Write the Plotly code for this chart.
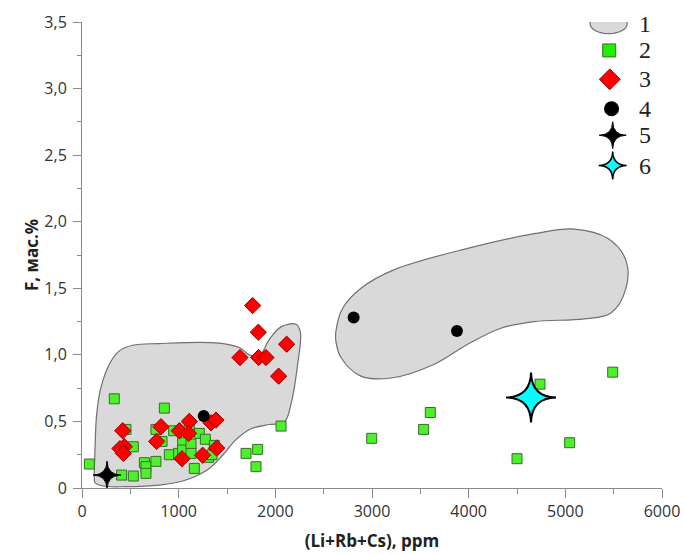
import plotly.graph_objects as go

# ---- data ----
region1_x = [128, 135, 152, 196, 283, 386, 524, 800, 1386, 1627, 1731, 1834, 1938, 2059, 2214, 2259,
             2231, 2162, 2093, 1938, 1748, 1593, 1455, 1317, 1076, 800, 455, 214, 134, 128]
region1_y = [0.06, 0.30, 0.557, 0.756, 0.93, 1.03, 1.072, 1.085, 1.09, 1.055, 1.0, 0.99, 1.117, 1.21,
             1.23, 1.17, 0.93, 0.63, 0.495, 0.477, 0.445, 0.363, 0.246, 0.147, 0.06, 0.022, 0.01,
             0.015, 0.04, 0.06]

region2_x = [2627, 2697, 2886, 3231, 3990, 4679, 5093, 5438, 5627, 5627, 5472, 5196, 4679, 4334,
             3990, 3645, 3196, 2886, 2679, 2627, 2627]
region2_y = [1.18, 1.35, 1.50, 1.64, 1.80, 1.91, 1.945, 1.875, 1.71, 1.50, 1.315, 1.27, 1.25, 1.20,
             1.08, 0.93, 0.826, 0.84, 0.98, 1.10, 1.18]

green_x = [76, 334, 852, 455, 531, 410, 531, 645, 662, 662, 765, 765, 828, 904, 948, 1000, 1041,
           1041, 1110, 1128, 1128, 1162, 1214, 1276, 1310, 1345, 1369, 1697, 1817, 1800, 2059,
           2997, 3534, 3603, 4500, 4738, 5045, 5490]
green_y = [0.18, 0.67, 0.60, 0.44, 0.31, 0.097, 0.09, 0.19, 0.16, 0.11, 0.20, 0.44, 0.35, 0.25,
           0.43, 0.26, 0.34, 0.285, 0.46, 0.33, 0.26, 0.147, 0.41, 0.366, 0.23, 0.25, 0.32, 0.26,
           0.29, 0.16, 0.465, 0.373, 0.44, 0.567, 0.22, 0.78, 0.34, 0.87]

red_x = [1765, 1824, 2117, 1634, 1827, 1903, 2034, 421, 438, 393, 428, 772, 817, 1007, 1110,
         1103, 1034, 1248, 1334, 1386, 1393]
red_y = [1.37, 1.17, 1.08, 0.98, 0.98, 0.98, 0.84, 0.43, 0.31, 0.296, 0.26, 0.35, 0.46, 0.43,
         0.50, 0.41, 0.22, 0.246, 0.49, 0.51, 0.30]

black_x = [1259, 2810, 3879]
black_y = [0.54, 1.28, 1.18]

star5_x = [259]
star5_y = [0.097]

star6_x = [4645]
star6_y = [0.68]

x_tickvals = [0, 1000, 2000, 3000, 4000, 5000, 6000]
x_ticktext = ["0", "1000", "2000", "3000", "4000", "5000", "6000"]
y_tickvals = [0, 0.5, 1.0, 1.5, 2.0, 2.5, 3.0, 3.5]
y_ticktext = ["0", "0,5", "1,0", "1,5", "2,0", "2,5", "3,0", "3,5"]

legend_labels = ["1", "2", "3", "4", "5", "6"]

# ---- styles ----
GREEN = "#4cf02c"
GREEN_LINE = "#3a6b2a"
RED = "#ff0000"
RED_LINE = "#990000"
GRAY_FILL = "#d9d9d9"
GRAY_LINE = "#707070"
AXIS = "#8a8a8a"


def star_path(r):
    k = r * 0.02
    return (f"M 0 {r} Q {k} {k} {r} 0 Q {k} {-k} 0 {-r} "
            f"Q {-k} {-k} {-r} 0 Q {-k} {k} 0 {r} Z")


fig = go.Figure()

for rx, ry in [(region1_x, region1_y), (region2_x, region2_y)]:
    fig.add_trace(go.Scatter(x=rx, y=ry, mode="lines", fill="toself",
                             fillcolor=GRAY_FILL, line=dict(color=GRAY_LINE, width=1.2,
                                                            shape="spline", smoothing=1.0),
                             hoverinfo="skip", showlegend=False))

fig.add_trace(go.Scatter(x=green_x, y=green_y, mode="markers", showlegend=False,
                         marker=dict(symbol="square", size=10, color=GREEN,
                                     line=dict(color=GREEN_LINE, width=1)), cliponaxis=False))
fig.add_trace(go.Scatter(x=red_x, y=red_y, mode="markers", showlegend=False,
                         marker=dict(symbol="diamond", size=12.5, color=RED,
                                     line=dict(color=RED_LINE, width=1)), cliponaxis=False))
fig.add_trace(go.Scatter(x=black_x, y=black_y, mode="markers", showlegend=False,
                         marker=dict(symbol="circle", size=12, color="black"), cliponaxis=False))

# 4-pointed stars anchored at data points (pixel-sized shapes)
for sx, sy in zip(star5_x, star5_y):
    fig.add_shape(type="path", xref="x", yref="y", xsizemode="pixel", ysizemode="pixel",
                  xanchor=sx, yanchor=sy, path=star_path(14),
                  fillcolor="black", line=dict(color="black", width=1))
for sx, sy in zip(star6_x, star6_y):
    fig.add_shape(type="path", xref="x", yref="y", xsizemode="pixel", ysizemode="pixel",
                  xanchor=sx, yanchor=sy, path=star_path(25),
                  fillcolor="#00ffff", line=dict(color="black", width=2))

# ---- manual legend (overlay axis 0..1 spanning plot area) ----
leg_y = [0.996, 0.939, 0.877, 0.814, 0.757, 0.692]
fig.add_shape(type="circle", xref="x2", yref="y2", x0=0.876, x1=0.940, y0=0.975, y1=1.0175,
              fillcolor=GRAY_FILL, line=dict(color=GRAY_LINE, width=1.2))
fig.add_trace(go.Scatter(x=[0.909], y=[leg_y[1]], xaxis="x2", yaxis="y2", mode="markers",
                         showlegend=False, hoverinfo="skip", cliponaxis=False,
                         marker=dict(symbol="square", size=13, color="#22ee00",
                                     line=dict(color=GREEN_LINE, width=1))))
fig.add_trace(go.Scatter(x=[0.910], y=[leg_y[2]], xaxis="x2", yaxis="y2", mode="markers",
                         showlegend=False, hoverinfo="skip", cliponaxis=False,
                         marker=dict(symbol="diamond", size=16, color=RED,
                                     line=dict(color=RED_LINE, width=1))))
fig.add_trace(go.Scatter(x=[0.913], y=[leg_y[3]], xaxis="x2", yaxis="y2", mode="markers",
                         showlegend=False, hoverinfo="skip", cliponaxis=False,
                         marker=dict(symbol="circle", size=15, color="black")))
fig.add_shape(type="path", xref="x2", yref="y2", xsizemode="pixel", ysizemode="pixel",
              xanchor=0.915, yanchor=leg_y[4], path=star_path(13.5),
              fillcolor="black", line=dict(color="black", width=1))
fig.add_shape(type="path", xref="x2", yref="y2", xsizemode="pixel", ysizemode="pixel",
              xanchor=0.915, yanchor=leg_y[5], path=star_path(14),
              fillcolor="#00ffff", line=dict(color="black", width=1.5))
for lab, yy in zip(legend_labels, leg_y):
    fig.add_annotation(x=0.957, y=yy, xref="x2", yref="y2", text=lab, showarrow=False,
                       xanchor="left", yanchor="middle",
                       font=dict(family="Liberation Serif", size=24, color="#222"))

tickfont = dict(family="Open Sans", size=16, color="#333")
fig.update_layout(
    width=684, height=555,
    margin=dict(l=82, r=22, t=21.5, b=67, autoexpand=False),
    paper_bgcolor="white", plot_bgcolor="white",
    xaxis=dict(range=[0, 6000], tickvals=x_tickvals, ticktext=x_ticktext, automargin=False,
               showgrid=False, zeroline=False, showline=True, linecolor=AXIS, linewidth=1,
               ticks="outside", ticklen=9, tickcolor=AXIS,
               minor=dict(dtick=500, ticks="outside", ticklen=5, tickcolor=AXIS),
               tickfont=tickfont,
               title=dict(text="<b>(Li+Rb+Cs), ppm</b>", standoff=13,
                          font=dict(family="Open Sans", size=17, color="#222"))),
    yaxis=dict(range=[0, 3.5], tickvals=y_tickvals, ticktext=y_ticktext, automargin=False,
               showgrid=False, zeroline=False, showline=True, linecolor=AXIS, linewidth=1,
               ticks="outside", ticklen=8, tickcolor=AXIS, ticklabelstandoff=3,
               minor=dict(dtick=0.25, ticks="outside", ticklen=4, tickcolor=AXIS),
               tickfont=tickfont,
               title=dict(text="<b>F, мас.%</b>", standoff=1,
                          font=dict(family="Open Sans", size=17, color="#222"))),
    xaxis2=dict(range=[0, 1], overlaying="x", visible=False, fixedrange=True),
    yaxis2=dict(range=[0, 1], overlaying="y", visible=False, fixedrange=True),
)

fig.write_html("out.html")
